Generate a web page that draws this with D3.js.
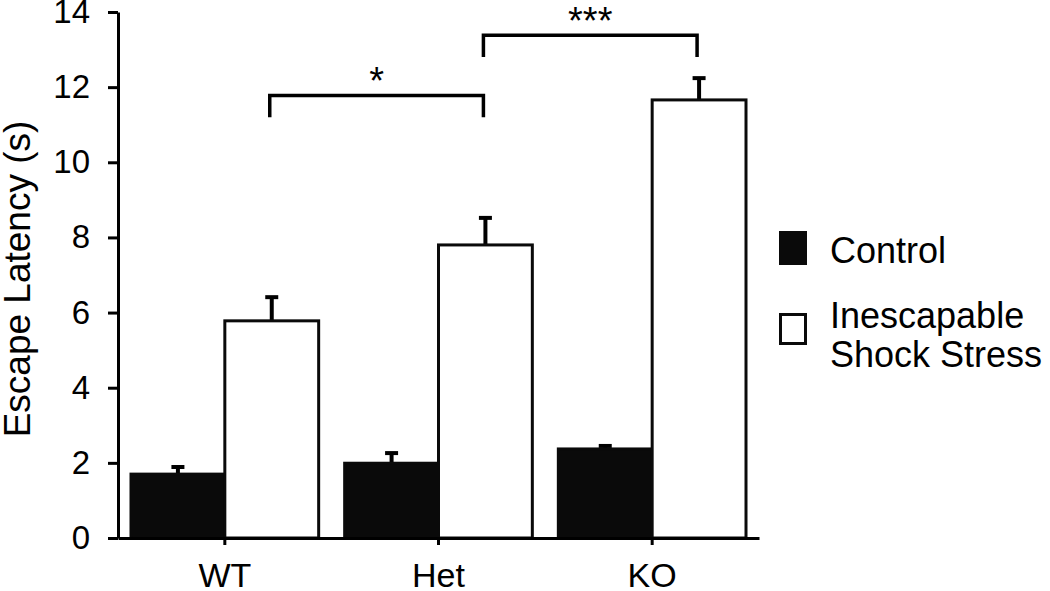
<!DOCTYPE html>
<html>
<head>
<meta charset="utf-8">
<script src="https://cdn.jsdelivr.net/npm/d3@7"></script>
<style>
  body { margin: 0; background: #fff; }
  svg { display: block; font-family: "Liberation Sans", Arial, sans-serif; }
</style>
</head>
<body>
<svg id="chart" width="1050" height="591"></svg>
<script>
// data
var categories = ["WT", "Het", "KO"]
var groups = ["Control", "Stress"]
var controlMean = [1.70, 1.99, 2.37]
var controlErr = [0.19, 0.27, 0.08]
var stressMean = [5.78, 7.80, 11.66]
var stressErr = [0.63, 0.72, 0.58]
var yTicks = [0, 2, 4, 6, 8, 10, 12, 14]
var legendLabels = [["Control"], ["Inescapable", "Shock Stress"]]
var brackets = [
    { from: "WT", to: "Het", top: 11.78, bottom: 11.2, label: "*" },
    { from: "Het", to: "KO", top: 13.38, bottom: 12.8, label: "***" }
]

var svg = d3.select("#chart")
var margin = { top: 12, left: 118, right: 291, bottom: 53 }
var width = 1050, height = 591

var x = d3.scaleBand().domain(categories).range([margin.left, width - margin.right]).padding(0)
var sub = d3.scaleBand().domain(groups).range([13, x.bandwidth() - 13]).padding(0)
var y = d3.scaleLinear().domain([0, 14]).range([height - margin.bottom, margin.top])

var rows = categories.map(function (c, i) {
    return [
        { cat: c, g: "Control", v: controlMean[i], e: controlErr[i] },
        { cat: c, g: "Stress", v: stressMean[i], e: stressErr[i] }
    ]
}).flat()

// error bars (upward only)
var err = svg.append("g")
err.selectAll("line.stem").data(rows).enter().append("line")
    .attr("x1", d => x(d.cat) + sub(d.g) + sub.bandwidth() / 2)
    .attr("x2", d => x(d.cat) + sub(d.g) + sub.bandwidth() / 2)
    .attr("y1", d => y(d.v))
    .attr("y2", d => y(d.v + d.e))
    .attr("stroke", "#000").attr("stroke-width", 4)
err.selectAll("line.cap").data(rows).enter().append("line")
    .attr("x1", d => x(d.cat) + sub(d.g) + sub.bandwidth() / 2 - 6.5)
    .attr("x2", d => x(d.cat) + sub(d.g) + sub.bandwidth() / 2 + 6.5)
    .attr("y1", d => y(d.v + d.e))
    .attr("y2", d => y(d.v + d.e))
    .attr("stroke", "#000").attr("stroke-width", 4)

// bars
svg.append("g").selectAll("rect").data(rows).enter().append("rect")
    .attr("x", d => x(d.cat) + sub(d.g))
    .attr("y", d => y(d.v))
    .attr("width", sub.bandwidth())
    .attr("height", d => y(0) - y(d.v))
    .attr("fill", d => d.g == "Control" ? "#0a0a0a" : "#fff")
    .attr("stroke", "#0a0a0a")
    .attr("stroke-width", 3)

// axes
var yAxis = svg.append("g")
    .attr("transform", "translate(" + margin.left + ",0)")
    .call(d3.axisLeft(y).tickValues(yTicks).tickSize(10).tickSizeOuter(0).tickPadding(18))
var xAxis = svg.append("g")
    .attr("transform", "translate(0," + y(0) + ")")
    .call(d3.axisBottom(x).tickSize(7).tickSizeOuter(0).tickPadding(18))
svg.selectAll(".domain, .tick line").attr("stroke", "#000").attr("stroke-width", 3)
yAxis.selectAll("text").attr("font-size", 33).attr("fill", "#000").attr("font-family", null)
xAxis.selectAll("text").attr("font-size", 34).attr("fill", "#000").attr("font-family", null)

svg.append("text")
    .attr("transform", "translate(30," + ((y(0) + y(14)) / 2 + 4) + ")rotate(-90)")
    .attr("text-anchor", "middle")
    .attr("font-size", 37)
    .text("Escape Latency (s)")

// significance brackets
var stressX = c => x(c) + sub("Stress") + sub.bandwidth() / 2 - 2
brackets.forEach(function (b) {
    var x1 = stressX(b.from), x2 = stressX(b.to)
    svg.append("path")
        .attr("d", "M" + x1 + "," + y(b.bottom) + "V" + y(b.top) + "H" + x2 + "V" + y(b.bottom))
        .attr("fill", "none").attr("stroke", "#000").attr("stroke-width", 3.5)
    svg.append("text")
        .attr("x", (x1 + x2) / 2)
        .attr("y", y(b.top) - 1)
        .attr("text-anchor", "middle")
        .attr("font-size", 38)
        .text(b.label)
})

// legend
var legend = svg.append("g").attr("transform", "translate(779,0)")
var legendY = [231, 313]
var legendText = [[263], [328, 367]]
legendLabels.forEach(function (lines, i) {
    legend.append("rect")
        .attr("x", 1.5).attr("y", legendY[i] + 1.5)
        .attr("width", 25).attr("height", i == 0 ? 31 : 29)
        .attr("fill", i == 0 ? "#0a0a0a" : "#fff")
        .attr("stroke", "#0a0a0a").attr("stroke-width", 3)
    lines.forEach(function (t, j) {
        legend.append("text")
            .attr("x", 51).attr("y", legendText[i][j])
            .attr("font-size", 36)
            .text(t)
    })
})
</script>
</body>
</html>
